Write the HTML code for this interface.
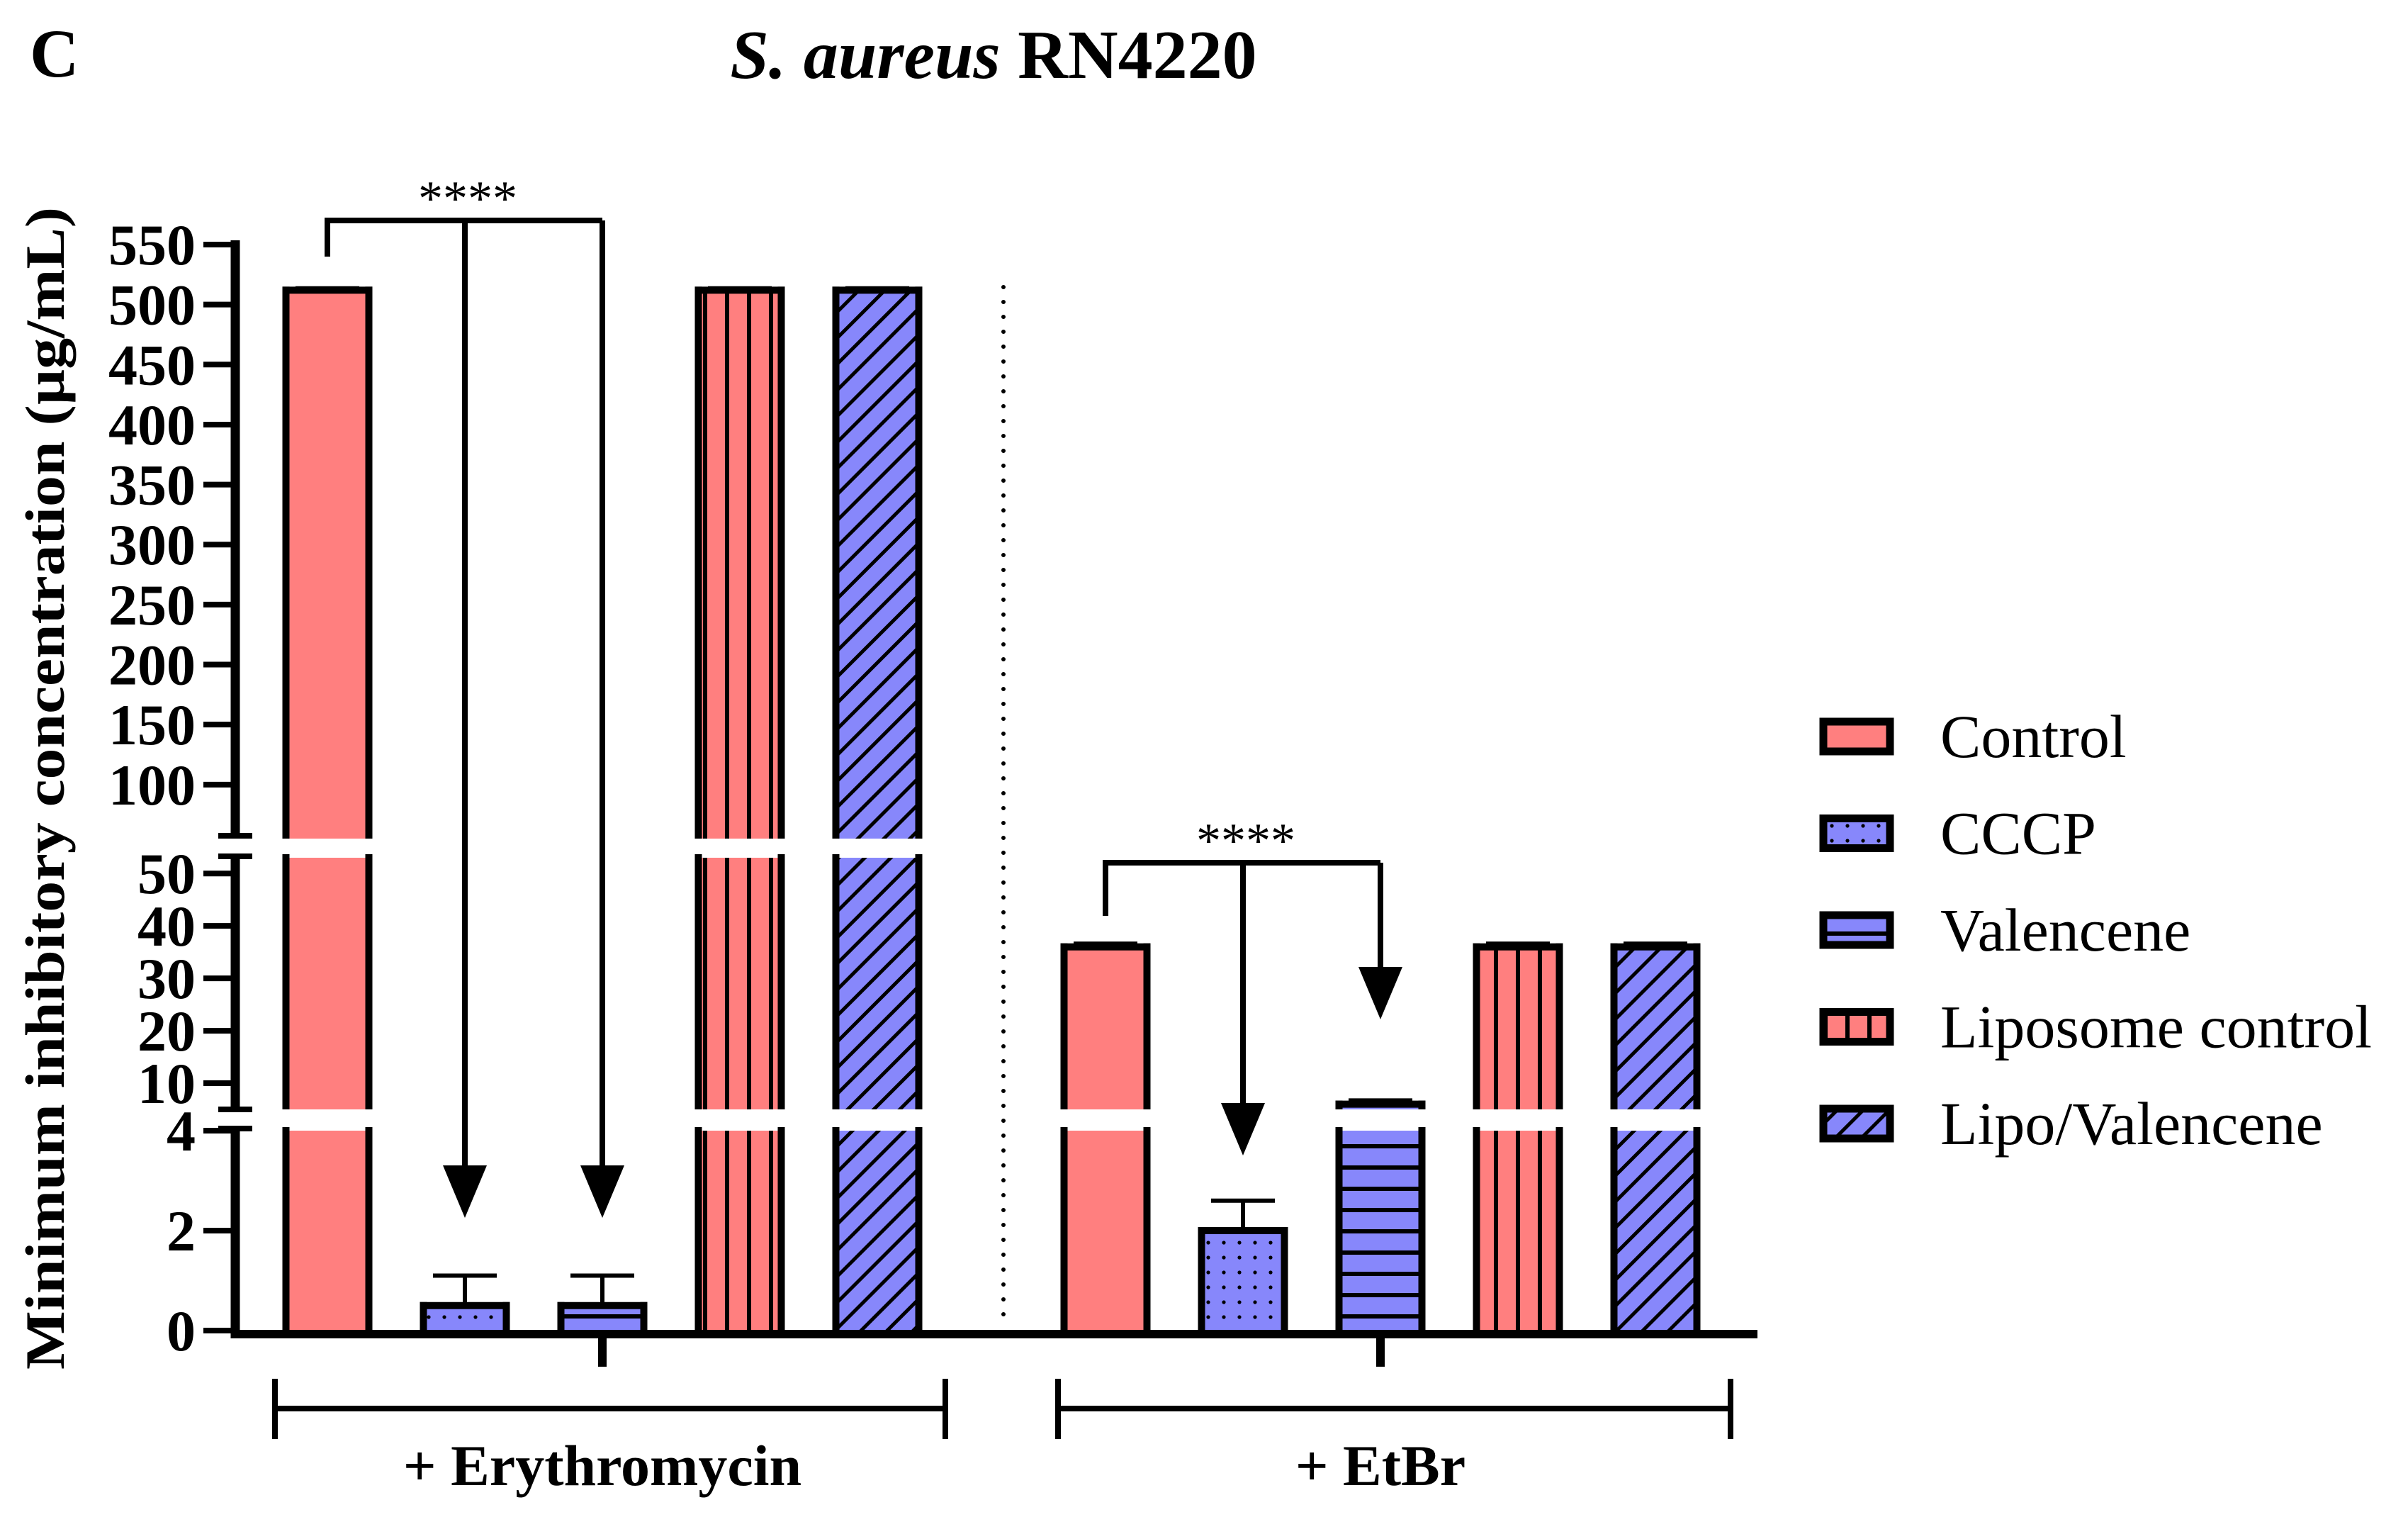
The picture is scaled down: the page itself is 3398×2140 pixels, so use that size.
<!DOCTYPE html>
<html><head><meta charset="utf-8"><style>
html,body{margin:0;padding:0;background:#fff}
svg{display:block}
text{font-family:"Liberation Serif",serif}
</style></head><body>
<svg id="chart" width="3398" height="2140" viewBox="0 0 3398 2140" xmlns="http://www.w3.org/2000/svg">
<defs>
 <pattern id="p-dots" width="22" height="21" patternUnits="userSpaceOnUse"><rect width="22" height="21" fill="#8787fb"/><circle cx="11" cy="10" r="2.6" fill="#000"/></pattern>
 <pattern id="p-hlines" width="30" height="30" patternUnits="userSpaceOnUse"><rect width="30" height="30" fill="#8787fb"/><rect y="24" width="30" height="6" fill="#000"/></pattern>
 <pattern id="p-vlines" width="31" height="30" patternUnits="userSpaceOnUse"><rect width="31" height="30" fill="#ff7f7f"/><rect x="0" width="6" height="30" fill="#000"/></pattern>
 <pattern id="p-diag" width="26" height="26" patternUnits="userSpaceOnUse" patternTransform="rotate(45)"><rect width="26" height="26" fill="#8787fb"/><rect x="0" width="5" height="26" fill="#000"/></pattern>
</defs>
<text x="42" y="108" font-size="96" font-weight="bold">C</text>
<text x="1402" y="110" font-size="98" font-weight="bold" text-anchor="middle"><tspan font-style="italic">S. aureus</tspan> RN4220</text>
<text transform="translate(90,1112) rotate(-90)" font-size="78" font-weight="bold" text-anchor="middle" textLength="1640" lengthAdjust="spacingAndGlyphs">Minimum inhibitory concentration (µg/mL)</text>
<g id="plot"></g>
</svg>
<script>
const categories = ["Control","CCCP","Valencene","Liposome control","Lipo/Valencene"];
const groups = ["+ Erythromycin","+ EtBr"];
const erythroValues = [512, 0.5, 0.5, 512, 512];
const erythroErrors = [1.5, 0.6, 0.6, 1.5, 1.5];
const etbrValues = [36, 2, 6, 36, 36];
const etbrErrors = [0.6, 0.6, 0.7, 0.6, 0.6];
const upperTicks = [100,150,200,250,300,350,400,450,500,550];
const middleTicks = [10,20,30,40,50];
const lowerTicks = [0,2,4];

const NS = "http://www.w3.org/2000/svg";
const plot = document.getElementById('plot');
function mk(tag, attrs, parent){const e=document.createElementNS(NS,tag);for(const k in attrs)e.setAttribute(k,attrs[k]);(parent||plot).appendChild(e);return e;}

const segs = [
 {vmin:0, vmax:4, y0:1877, y1:1595},
 {vmin:5, vmax:53, y0:1565, y1:1210},
 {vmin:55, vmax:550, y0:1183, y1:345}
];
function segY(s,v){return s.y0 + (v - s.vmin)*(s.y1 - s.y0)/(s.vmax - s.vmin);}
function yScale(v){
 for(const s of segs){ if(v<=s.vmax || s===segs[2]) { if(v>=s.vmin||s===segs[0]) return segY(s,Math.max(s.vmin,Math.min(v,s.vmax))); } }
 return segs[2].y1;
}
const axisX = 332, xEnd = 2480;
const groupStart = [462, 1560], step = 194, barW = 127;
function xScale(g,i){return groupStart[g] + i*step;}
const fills = ["#ff7f7f","url(#p-dots)","url(#p-hlines)","url(#p-vlines)","url(#p-diag)"];

const axLower = mk('line',{x1:axisX,x2:axisX,y1:1888,y2:1595,stroke:'#000','stroke-width':13});


const axMid = mk('line',{x1:axisX,x2:axisX,y1:1565,y2:1208,stroke:'#000','stroke-width':13});


const axUp = mk('line',{x1:axisX,x2:axisX,y1:1179,y2:339,stroke:'#000','stroke-width':13});


[1179,1208,1565,1592].forEach(y=>{
 const b=mk('line',{x1:308,x2:356,y1:y,y2:y,stroke:'#000','stroke-width':8});
 
 
});
function tick(v,s){
 const y=segY(s,v);
 const t=mk('line',{x1:287,x2:axisX,y1:y,y2:y,stroke:'#000','stroke-width':8});
 
 
 const l=mk('text',{x:276,y:y+28,'font-size':82,'font-weight':'bold','text-anchor':'end'});
 l.textContent=String(v);
 
 
}
lowerTicks.forEach(v=>tick(v,segs[0]));
middleTicks.forEach(v=>tick(v,segs[1]));
upperTicks.forEach(v=>tick(v,segs[2]));

function drawBar(g,i,v,err){
 const cx=xScale(g,i), x=cx-barW/2+5, w=barW-10;
 segs.forEach(s=>{
  if(v<=s.vmin && s.vmin>0) return;
  const top=segY(s,Math.min(v,s.vmax)), bot=s.y0;
  const r=mk('rect',{x:x,y:top,width:w,height:Math.max(0,bot-top),fill:fills[i]});
  
  
  mk('line',{x1:x,x2:x,y1:top-5,y2:bot,stroke:'#000','stroke-width':10});
  mk('line',{x1:x+w,x2:x+w,y1:top-5,y2:bot,stroke:'#000','stroke-width':10});
  if(v<=s.vmax){ mk('line',{x1:x-5,x2:x+w+5,y1:top,y2:top,stroke:'#000','stroke-width':10}); }
 });
 const yt=yScale(v), ye=yScale(v+err);
 const e=mk('path',{d:`M${cx},${yt} V${ye} M${cx-45},${ye} H${cx+45}`,stroke:'#000','stroke-width':6,fill:'none'});
 
 
}
erythroValues.forEach((v,i)=>drawBar(0,i,v,erythroErrors[i]));
etbrValues.forEach((v,i)=>drawBar(1,i,v,etbrErrors[i]));

const xa=mk('line',{x1:axisX-6,x2:xEnd,y1:1882,y2:1882,stroke:'#000','stroke-width':12});


const bracketLeftPad=[74,67], bracketRightPad=[96,106];
[0,1].forEach(g=>{
 const cx=xScale(g,2);
 const t=mk('line',{x1:cx,x2:cx,y1:1888,y2:1928,stroke:'#000','stroke-width':12});
 
 
 const x0=xScale(g,0)-bracketLeftPad[g], x1=xScale(g,4)+bracketRightPad[g];
 const br=mk('path',{d:`M${x0},1945 V2030 M${x0},1987 H${x1} M${x1},1945 V2030`,stroke:'#000','stroke-width':8,fill:'none'});
 
 
 const lb=mk('text',{x:cx,y:2095,'font-size':82,'font-weight':'bold','text-anchor':'middle'});
 lb.textContent=groups[g];
 
 
});
const dv=mk('line',{x1:1416,x2:1416,y1:405,y2:1870,stroke:'#000','stroke-width':6,'stroke-dasharray':'0 21','stroke-linecap':'round'});



function arrow(x,yTop,yTip){
 mk('line',{x1:x,x2:x,y1:yTop,y2:yTip-70,stroke:'#000','stroke-width':8});
 const a=mk('polygon',{points:`${x-31},${yTip-74} ${x+31},${yTip-74} ${x},${yTip}`,fill:'#000'});
 
 
}
function sig(g,yTop,legBottom,tips){
 const xl=xScale(g,0), xr=xScale(g,2);
 const p=mk('path',{d:`M${xl},${legBottom} V${yTop} H${xr}`,stroke:'#000','stroke-width':8,fill:'none'});
 
 
 arrow(xScale(g,1),yTop,tips[0]);
 arrow(xr,yTop,tips[1]);
 const s=mk('text',{x:(xl+xr)/2+4,y:yTop-8,'font-size':70,'font-family':'Liberation Sans, sans-serif','text-anchor':'middle'});
 s.textContent='****';
 
 
}
sig(0,311,362,[1718,1718]);
sig(1,1217,1292,[1630,1438]);

categories.forEach((c,i)=>{
 const y=1039+i*136.5;
 const r=mk('rect',{x:2573,y:y-21,width:94,height:42,fill:fills[i],stroke:'#000','stroke-width':11});
 
 
 const t=mk('text',{x:2738,y:y+29,'font-size':86});
 t.textContent=c;
 
 
});
</script>
</body></html>
